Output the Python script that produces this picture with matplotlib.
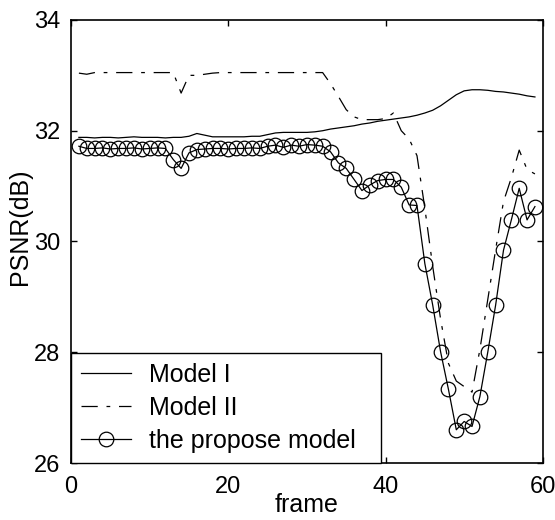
import matplotlib
matplotlib.use("Agg")
from matplotlib import pyplot as plt

# frame numbers
frames = list(range(1, 60))

# PSNR of model I (solid line)
model1 = [31.88, 31.88, 31.87, 31.88, 31.88, 31.87, 31.88, 31.89, 31.88, 31.88,
          31.88, 31.87, 31.88, 31.88, 31.90, 31.95, 31.92, 31.89, 31.89, 31.89,
          31.89, 31.89, 31.90, 31.90, 31.93, 31.96, 31.97, 31.97, 31.97, 31.97,
          31.98, 32.00, 32.03, 32.05, 32.07, 32.09, 32.12, 32.14, 32.17, 32.19,
          32.21, 32.23, 32.25, 32.28, 32.32, 32.37, 32.45, 32.55, 32.65, 32.72,
          32.74, 32.74, 32.73, 32.71, 32.70, 32.68, 32.66, 32.63, 32.61]

# PSNR of model II (dash-dot line)
model2 = [33.04, 33.02, 33.05, 33.05, 33.05, 33.05, 33.05, 33.05, 33.05, 33.05,
          33.05, 33.05, 33.05, 32.68, 33.00, 33.00, 33.02, 33.04, 33.05, 33.05,
          33.05, 33.05, 33.05, 33.05, 33.05, 33.05, 33.05, 33.05, 33.05, 33.05,
          33.05, 33.05, 32.85, 32.62, 32.38, 32.25, 32.20, 32.20, 32.20, 32.22,
          32.32, 32.00, 31.85, 31.55, 30.60, 29.55, 28.60, 27.80, 27.48, 27.38,
          27.28, 28.05, 28.95, 29.85, 30.72, 31.15, 31.65, 31.30, 31.22]

# PSNR of the proposed model (circles)
proposed = [31.72, 31.68, 31.68, 31.69, 31.67, 31.68, 31.68, 31.69, 31.67, 31.68,
            31.69, 31.68, 31.48, 31.32, 31.60, 31.66, 31.67, 31.68, 31.68, 31.67,
            31.68, 31.68, 31.69, 31.68, 31.72, 31.74, 31.70, 31.74, 31.72, 31.75,
            31.74, 31.72, 31.62, 31.42, 31.32, 31.12, 30.92, 31.02, 31.10, 31.12,
            31.12, 30.98, 30.66, 30.65, 29.60, 28.85, 28.01, 27.33, 26.60, 26.75,
            26.66, 27.20, 28.00, 28.85, 29.84, 30.39, 30.96, 30.39, 30.63]

plt.rcParams['font.family'] = ['Liberation Sans', 'DejaVu Sans']
plt.rcParams['font.size'] = 18

fig = plt.figure(figsize=(5.55, 5.2), dpi=100)
ax = fig.add_axes([0.128, 0.1096, 0.850, 0.852])

ax.plot(frames, model1, color='k', lw=0.9, label='Model I')
ax.plot(frames, model2, color='k', lw=0.9, dashes=(13, 7, 3, 7), label='Model II')
ax.plot(frames, proposed, color='k', lw=0.9, marker='o', markersize=10.5,
        markerfacecolor='none', markeredgecolor='k', markeredgewidth=0.9,
        label='the propose model')

ax.set_xlim(0, 60)
ax.set_ylim(26, 34)
ax.set_xticks([0, 20, 40, 60])
ax.set_yticks([26, 28, 30, 32, 34])
ax.tick_params(direction='in', top=True, right=True, length=4, width=1, labelsize=17)
ax.tick_params(axis='x', pad=9)
ax.tick_params(axis='y', pad=8)
for s in ax.spines.values():
    s.set_linewidth(1.2)

ax.set_xlabel('frame', labelpad=-3)
ax.set_ylabel('PSNR(dB)')
ax.yaxis.set_label_coords(-0.083, 0.534)

leg = ax.legend(loc='lower left', bbox_to_anchor=(0, 0, 0.657, 0.24), mode='expand',
                borderaxespad=0, fancybox=False, framealpha=1, edgecolor='k',
                handlelength=2.0, handletextpad=0.7, labelspacing=0.36, borderpad=0.4)
leg.get_frame().set_linewidth(1.0)

plt.savefig('out.png', dpi=100)
